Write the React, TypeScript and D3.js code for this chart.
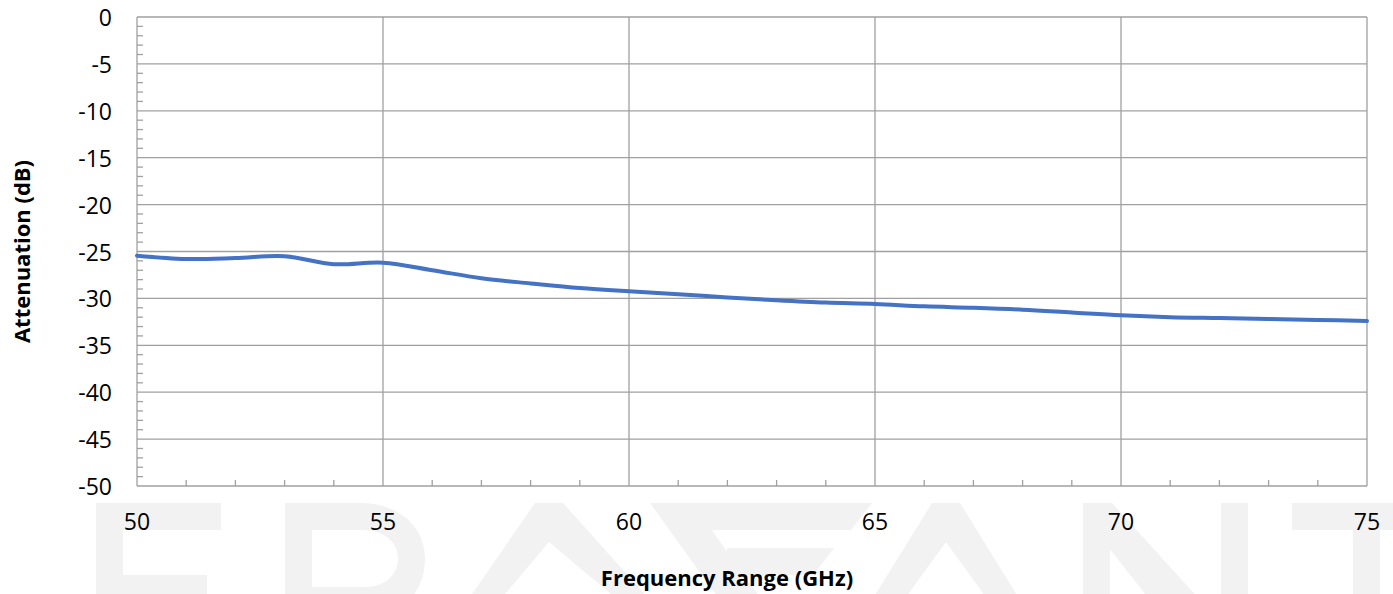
import * as d3 from "d3";

const W = 1393;
const H = 594;

// frequency points (GHz) and measured attenuation (dB)
const freqs = [50, 51, 52, 53, 54, 55, 56, 57, 58, 59, 60, 61, 62, 63, 64, 65, 66, 67, 68, 69, 70, 71, 72, 73, 74, 75];
const attenuation = [
  -25.45, -25.8, -25.7, -25.5, -26.35, -26.2, -27.0, -27.85, -28.4, -28.9, -29.25, -29.55, -29.9,
  -30.2, -30.45, -30.6, -30.85, -31.0, -31.2, -31.5, -31.8, -32.0, -32.1, -32.2, -32.3, -32.4,
];

const xTicks = [50, 55, 60, 65, 70, 75];
const yTicks = [0, -5, -10, -15, -20, -25, -30, -35, -40, -45, -50];

const margin = { top: 17, right: 26, bottom: 108, left: 137 };

const gridColor = "#a0a0a0";
const lineColor = "#4472C4";
const wmColor = "#f2f2f2";
const font = "'Open Sans', 'Noto Sans', sans-serif";

// faint logo letters behind the chart
const watermark = [
  "M96,503 H221 V530 H123 V575 H207 V600 H96 Z",
  "M285,503 H360 C400,503 425,528 425,558 C425,578 418,590 410,600 H285 Z M312,530 H362 C385,530 398,543 398,558 C398,575 385,587 365,587 H312 Z",
  "M468,600 L535,503 L563,503 L650,600 L618,600 L549,542 L500,600 Z",
  "M650,503 L692,503 L762,600 L720,600 Z",
  "M692,503 L872,503 L851,530 L692,530 Z",
  "M727,548 L834,548 L813,575 L727,575 Z",
  "M872,600 L932,503 L960,503 L1020,600 L988,600 L946,542 L904,600 Z",
  "M1083,503 H1110 V600 H1083 Z",
  "M1083,503 L1112,503 L1200,600 L1150,600 L1105,543 Z",
  "M1221,503 H1248 V600 H1221 Z",
  "M1292,503 H1393 V530 H1380 V600 H1353 V530 H1292 Z",
];

export default function App() {
  const x = d3.scaleLinear().domain([50, 75]).range([margin.left, W - margin.right]);
  const y = d3.scaleLinear().domain([-50, 0]).range([H - margin.bottom, margin.top]);

  const pts = freqs.map((f, i) => [f, attenuation[i]] as [number, number]);
  const line = d3
    .line<[number, number]>()
    .x((d) => x(d[0]))
    .y((d) => y(d[1]))
    .curve(d3.curveCatmullRom.alpha(0.5));

  const minorX = d3.range(50, 76, 1).filter((v) => v % 5 !== 0);
  const minorY = d3.range(-50, 1, 1).filter((v) => v % 5 !== 0);

  const x0 = x(50);
  const x1 = x(75);
  const yBottom = y(-50);
  const yTop = y(0);

  return (
    <svg
      width={W}
      height={H}
      style={{ position: "absolute", left: 0, top: 0, background: "#fff" }}
      fontFamily={font}
    >
      <g fill={wmColor} fillRule="evenodd">
        {watermark.map((d, i) => (
          <path key={i} d={d} />
        ))}
      </g>

      {/* grid */}
      <g stroke={gridColor} strokeWidth={1.3}>
        {yTicks.map((t) => (
          <line key={"h" + t} x1={x0} x2={x1} y1={y(t)} y2={y(t)} />
        ))}
        {xTicks.map((t) => (
          <line key={"v" + t} x1={x(t)} x2={x(t)} y1={yTop} y2={yBottom} />
        ))}
        {minorY.map((t) => (
          <line key={"my" + t} x1={x0} x2={x0 + 6} y1={y(t)} y2={y(t)} />
        ))}
        {minorX.map((t) => (
          <line key={"mx" + t} x1={x(t)} x2={x(t)} y1={yBottom} y2={yBottom - 6} />
        ))}
      </g>

      <path d={line(pts) || ""} fill="none" stroke={lineColor} strokeWidth={4} strokeLinecap="round" />

      {/* tick labels */}
      <g fontSize={23} fill="#000">
        {yTicks.map((t) => (
          <text key={"yl" + t} x={112} y={y(t)} textAnchor="end" dominantBaseline="central">
            {t}
          </text>
        ))}
        {xTicks.map((t) => (
          <text key={"xl" + t} x={x(t)} y={530} textAnchor="middle">
            {t}
          </text>
        ))}
      </g>

      <text x={727} y={586} textAnchor="middle" fontSize={22} fontWeight="bold" fill="#000">
        Frequency Range (GHz)
      </text>
      <text
        transform={`translate(30,${(yTop + yBottom) / 2}) rotate(-90)`}
        textAnchor="middle"
        fontSize={22}
        fontWeight="bold"
        fill="#000"
      >
        Attenuation (dB)
      </text>
    </svg>
  );
}
